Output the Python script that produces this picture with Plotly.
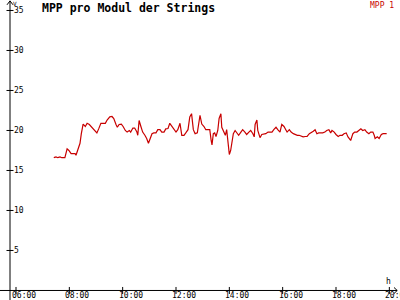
import plotly.graph_objects as go

DAY = "2024-06-01 "
times = ["07:25","07:30","07:34","07:39","07:43","07:50","07:55","07:59","08:04","08:08",
         "08:13","08:15","08:19","08:24","08:27","08:31","08:36","08:40","08:45","08:50",
         "08:55","09:02","09:06","09:11","09:15","09:21","09:25","09:31","09:36","09:40",
         "09:45","09:48","09:52","09:57","10:01","10:06","10:10","10:15","10:18","10:23",
         "10:27","10:32","10:34","10:37","10:41","10:45","10:50","10:54","10:58","11:02",
         "11:06","11:10","11:15","11:19","11:24","11:28","11:33","11:37","11:42","11:46",
         "11:51","11:55","12:00","12:04","12:09","12:13","12:18","12:22","12:27","12:31",
         "12:35","12:39","12:43","12:48","12:52","12:54","12:58","13:03","13:07","13:12",
         "13:16","13:19","13:21","13:24","13:27","13:30","13:34","13:37","13:41","13:43",
         "13:48","13:51","13:54","13:57","14:00","14:03","14:06","14:09","14:13","14:18",
         "14:21","14:26","14:30","14:35","14:39","14:44","14:48","14:53","14:56","14:58",
         "15:02","15:04","15:09","15:13","15:18","15:22","15:27","15:31","15:36","15:40",
         "15:45","15:49","15:54","15:58","16:03","16:07","16:10","16:15","16:19","16:24",
         "16:28","16:33","16:37","16:42","16:46","16:51","16:55","17:00","17:04","17:09",
         "17:13","17:17","17:21","17:26","17:30","17:35","17:39","17:44","17:48","17:51",
         "17:56","18:00","18:05","18:09","18:14","18:18","18:23","18:27","18:33","18:38",
         "18:42","18:47","18:51","18:56","19:00","19:05","19:09","19:14","19:18","19:23",
         "19:26","19:28","19:33","19:37","19:42","19:46","19:54"]
mpp1 = [16.6,16.7,16.6,16.7,16.6,16.6,17.7,17.5,17.1,17.1,
        17.1,16.9,17.5,18.4,19.6,20.8,20.5,20.9,20.75,20.4,
        20.1,19.7,20.2,20.9,20.9,20.9,21.3,21.7,21.75,21.5,
        20.75,20.4,20.75,20.8,20.5,20.0,19.8,20.0,19.8,20.3,
        20.3,19.8,19.4,21.25,20.5,19.8,19.4,19.0,18.4,19.0,
        19.6,19.7,19.7,20.1,20.1,19.8,19.8,20.2,20.25,20.9,
        20.5,20.1,19.8,20.1,20.9,19.4,19.4,19.7,20.1,21.7,
        22.1,20.1,19.6,19.7,21.5,21.9,20.8,20.5,20.1,20.1,
        20.1,18.8,18.2,19.6,19.7,19.25,20.0,21.5,22.1,20.4,
        19.6,19.4,20.1,18.3,17.0,17.5,18.75,19.6,20.0,19.6,
        19.4,19.8,20.1,19.8,19.5,19.8,20.0,19.6,19.2,20.75,
        21.3,20.0,19.1,19.5,19.6,19.6,19.8,19.8,19.8,20.1,
        20.4,20.1,19.8,20.75,20.5,20.1,19.8,20.1,19.8,19.6,
        19.5,19.4,19.4,19.25,19.2,19.25,19.25,19.6,19.7,19.9,
        20.1,19.6,19.7,19.7,19.7,19.8,20.0,20.1,19.7,20.0,
        19.8,19.5,19.25,19.4,19.4,19.6,19.7,19.2,18.75,19.6,
        19.8,19.8,20.0,20.2,20.0,20.1,19.8,19.6,19.8,19.8,
        19.4,19.0,19.2,19.0,19.5,19.6,19.6]

x_ticks = ["06:00","08:00","10:00","12:00","14:00","16:00","18:00","20:00"]
y_ticks = [5, 10, 15, 20, 25, 30, 35]
x_range = ["05:24", "20:24"]
y_range = [-1.19, 36.31]
y_axis_at = "05:46:30"

title = "MPP pro Modul der Strings"
series_name = "MPP 1"
RED = "#c80000"
MONO = "DejaVu Sans Mono"

fig = go.Figure()
fig.add_trace(go.Scatter(x=[DAY + t for t in times], y=mpp1, mode="lines",
                         line=dict(color=RED, width=1.2), name=series_name,
                         showlegend=False, hoverinfo="skip"))
# tick marks crossing the axes
fig.add_trace(go.Scatter(x=[DAY + t for t in x_ticks], y=[0] * len(x_ticks), mode="markers",
                         marker=dict(symbol="line-ns", size=5, line=dict(color="black", width=1)),
                         showlegend=False, hoverinfo="skip"))
fig.add_trace(go.Scatter(x=[DAY + y_axis_at] * len(y_ticks), y=y_ticks, mode="markers",
                         marker=dict(symbol="line-ew", size=5, line=dict(color="black", width=1)),
                         showlegend=False, hoverinfo="skip"))

fig.update_layout(
    width=400, height=300, margin=dict(l=0, r=0, t=0, b=0),
    paper_bgcolor="white", plot_bgcolor="white",
    font=dict(family=MONO, size=8, color="black"),
    showlegend=False,
    xaxis=dict(type="date", range=[DAY + x_range[0], DAY + x_range[1]],
               showgrid=False, zeroline=False, showline=False, ticks="",
               showticklabels=False, fixedrange=True),
    yaxis=dict(range=y_range, showgrid=False, zeroline=False, showline=False, ticks="",
               showticklabels=False, fixedrange=True),
)

# axis lines
fig.add_shape(type="line", xref="x", yref="paper", x0=DAY + y_axis_at, x1=DAY + y_axis_at,
              y0=0, y1=0.997, line=dict(color="black", width=1))
fig.add_shape(type="line", xref="paper", yref="y", x0=0, x1=0.993, y0=0, y1=0,
              line=dict(color="black", width=1))
# arrowheads
fig.add_shape(type="path", xref="paper", yref="paper",
              path="M 0.985 0.0417 L 0.993 0.0317 L 0.985 0.0217",
              line=dict(color="black", width=1))
fig.add_shape(type="path", xref="paper", yref="paper",
              path="M 0.0175 0.984 L 0.025 0.997 L 0.0325 0.984",
              line=dict(color="black", width=1))

# tick labels placed on the axes' own scales
for t in x_ticks:
    fig.add_annotation(x=DAY + t, y=0, xref="x", yref="y", text=t, showarrow=False,
                       xanchor="left", yanchor="top", xshift=-6, yshift=1,
                       font=dict(family=MONO, size=8, color="black"))
for v in y_ticks:
    fig.add_annotation(x=DAY + y_axis_at, y=v, xref="x", yref="y", text=str(v), showarrow=False,
                       xanchor="left", yanchor="middle", xshift=2,
                       font=dict(family=MONO, size=8, color="black"))

fig.add_annotation(x=0.1, y=1.0, xref="paper", yref="paper", text="<b>" + title + "</b>",
                   showarrow=False, xanchor="left", yanchor="top", yshift=1,
                   font=dict(family=MONO, size=11.5, color="black"))
fig.add_annotation(x=0.99, y=1.0, xref="paper", yref="paper", text=series_name,
                   showarrow=False, xanchor="right", yanchor="top", yshift=1,
                   font=dict(family=MONO, size=8, color=RED))
fig.add_annotation(x=DAY + y_axis_at, y=1.0, xref="x", yref="paper", text="V",
                   showarrow=False, xanchor="left", yanchor="top", xshift=1, yshift=2,
                   font=dict(family=MONO, size=6, color="black"))
fig.add_annotation(x=0.97, y=0, xref="paper", yref="y", text="h",
                   showarrow=False, xanchor="center", yanchor="bottom", yshift=2,
                   font=dict(family=MONO, size=8, color="black"))

fig.write_html("out.html")
